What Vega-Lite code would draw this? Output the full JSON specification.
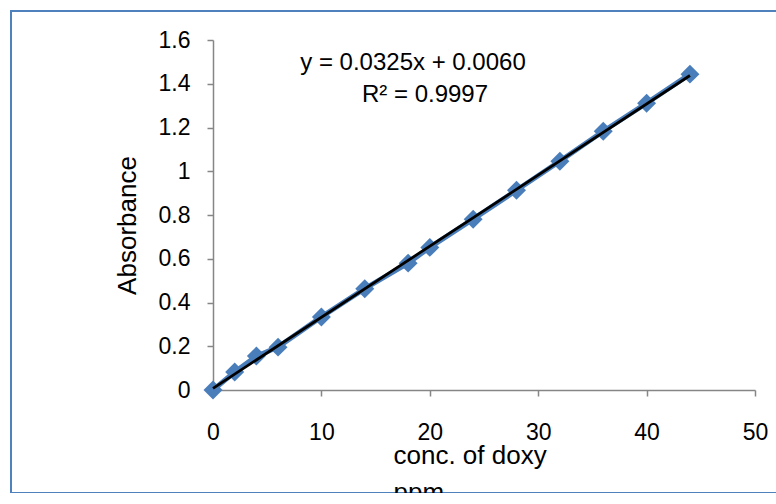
{
  "$schema": "https://vega.github.io/schema/vega-lite/v6.json",
  "autosize": "none",
  "padding": {"left": 11, "top": 11, "right": 0, "bottom": 0},
  "width": 780,
  "height": 482,
  "config": {
    "view": {"stroke": "#4F81BD", "strokeWidth": 2},
    "font": "Liberation Sans"
  },
  "datasets": {
    "points": [
      {"conc": 0, "absorbance": 0.0},
      {"conc": 2, "absorbance": 0.082},
      {"conc": 4, "absorbance": 0.155},
      {"conc": 6, "absorbance": 0.196},
      {"conc": 10, "absorbance": 0.334},
      {"conc": 14, "absorbance": 0.463},
      {"conc": 18, "absorbance": 0.58},
      {"conc": 20, "absorbance": 0.652},
      {"conc": 24, "absorbance": 0.781},
      {"conc": 28, "absorbance": 0.913},
      {"conc": 32, "absorbance": 1.046},
      {"conc": 36, "absorbance": 1.183},
      {"conc": 40, "absorbance": 1.311},
      {"conc": 44, "absorbance": 1.444}
    ],
    "notes": [
      {"conc": 18.45, "absorbance": 1.463, "label": "y = 0.0325x + 0.0060"},
      {"conc": 19.56, "absorbance": 1.317, "label": "R² = 0.9997"}
    ]
  },
  "encoding": {
    "x": {
      "field": "conc",
      "type": "quantitative",
      "scale": {"domain": [0, 50], "range": [202, 744], "nice": false, "zero": false},
      "axis": {
        "title": ["conc. of doxy", "ppm"],
        "values": [0, 10, 20, 30, 40, 50],
        "grid": false,
        "offset": -103,
        "domainColor": "#868686",
        "domainWidth": 1.5,
        "tickColor": "#868686",
        "tickWidth": 1.5,
        "tickSize": 6,
        "labelFontSize": 23,
        "labelColor": "black",
        "labelPadding": 25,
        "labelFlush": false,
        "labelOverlap": false,
        "titleFontSize": 26,
        "titleFontWeight": "normal",
        "titleColor": "black",
        "titleAlign": "left",
        "titleX": 382,
        "titleY": 73,
        "titleBaseline": "alphabetic",
        "titleLineHeight": 37
      }
    },
    "y": {
      "field": "absorbance",
      "type": "quantitative",
      "scale": {"domain": [0, 1.6], "range": [379, 29], "nice": false, "zero": false},
      "axis": {
        "title": "Absorbance",
        "values": [0, 0.2, 0.4, 0.6, 0.8, 1, 1.2, 1.4, 1.6],
        "format": "~g",
        "grid": false,
        "offset": -202,
        "domainColor": "#868686",
        "domainWidth": 1.5,
        "tickColor": "#868686",
        "tickWidth": 1.5,
        "tickSize": 6,
        "labelFontSize": 23,
        "labelColor": "black",
        "labelPadding": 17,
        "labelFlush": false,
        "labelOverlap": false,
        "titleFontSize": 26,
        "titleFontWeight": "normal",
        "titleColor": "black",
        "titleX": -78,
        "titleY": 214,
        "titleBaseline": "alphabetic"
      }
    }
  },
  "layer": [
    {
      "data": {"name": "points"},
      "mark": {"type": "line", "color": "#4A7EBB", "strokeWidth": 5}
    },
    {
      "data": {"name": "points"},
      "mark": {"type": "point", "shape": "diamond", "filled": true, "size": 360, "color": "#4A7EBB", "opacity": 1}
    },
    {
      "data": {"name": "points"},
      "transform": [{"regression": "absorbance", "on": "conc", "extent": [0, 44]}],
      "mark": {"type": "line", "color": "black", "strokeWidth": 2.8}
    },
    {
      "data": {"name": "notes"},
      "mark": {"type": "text", "fontSize": 24, "align": "center", "baseline": "alphabetic", "color": "black"},
      "encoding": {"text": {"field": "label", "type": "nominal"}}
    }
  ]
}
